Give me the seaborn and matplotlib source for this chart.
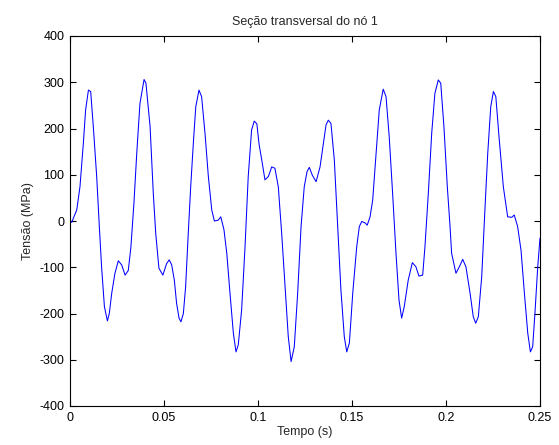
import matplotlib
matplotlib.use("Agg")
import matplotlib.pyplot as plt
import seaborn as sns
import pandas as pd

# Stress history at cross-section of node 1
tempo = [
    0.0000, 0.0009, 0.0036, 0.0053, 0.0071, 0.0083, 0.0098, 0.0110, 0.0124, 0.0142,
    0.0156, 0.0168, 0.0183, 0.0199, 0.0209, 0.0222, 0.0239, 0.0257, 0.0275, 0.0293,
    0.0310, 0.0324, 0.0340, 0.0355, 0.0372, 0.0394, 0.0404, 0.0426, 0.0443, 0.0456,
    0.0473, 0.0494, 0.0514, 0.0528, 0.0541, 0.0555, 0.0567, 0.0580, 0.0590, 0.0603,
    0.0615, 0.0629, 0.0642, 0.0656, 0.0669, 0.0686, 0.0700, 0.0718, 0.0736, 0.0754,
    0.0768, 0.0789, 0.0802, 0.0819, 0.0834, 0.0851, 0.0869, 0.0883, 0.0895, 0.0913,
    0.0931, 0.0948, 0.0966, 0.0980, 0.0994, 0.1006, 0.1020, 0.1037, 0.1055, 0.1073,
    0.1090, 0.1108, 0.1126, 0.1144, 0.1161, 0.1176, 0.1193, 0.1211, 0.1229, 0.1246,
    0.1261, 0.1273, 0.1289, 0.1309, 0.1330, 0.1348, 0.1362, 0.1374, 0.1388, 0.1406,
    0.1424, 0.1441, 0.1459, 0.1472, 0.1486, 0.1504, 0.1525, 0.1539, 0.1552, 0.1569,
    0.1581, 0.1596, 0.1610, 0.1628, 0.1645, 0.1666, 0.1681, 0.1698, 0.1716, 0.1734,
    0.1750, 0.1764, 0.1778, 0.1799, 0.1821, 0.1840, 0.1856, 0.1876, 0.1888, 0.1906,
    0.1924, 0.1941, 0.1959, 0.1972, 0.1989, 0.2007, 0.2021, 0.2030, 0.2053, 0.2071,
    0.2089, 0.2106, 0.2128, 0.2145, 0.2158, 0.2172, 0.2190, 0.2207, 0.2222, 0.2238,
    0.2252, 0.2265, 0.2282, 0.2305, 0.2328, 0.2350, 0.2363, 0.2381, 0.2399, 0.2417,
    0.2435, 0.2449, 0.2461, 0.2473, 0.2488, 0.2500,
]
tensao = [
    0, -3, 24, 74, 168, 240, 283, 280, 204, 96,
    -12, -99, -185, -216, -200, -156, -113, -86, -95, -117,
    -107, -56, 38, 146, 254, 306, 298, 204, 60, -27,
    -102, -117, -92, -84, -95, -128, -178, -210, -218, -200,
    -142, -27, 74, 168, 247, 283, 269, 190, 96, 24,
    0, 2, 9, -19, -70, -156, -243, -283, -268, -192,
    -56, 96, 197, 216, 210, 165, 132, 89, 96, 117,
    114, 74, -27, -142, -250, -304, -272, -156, -12, 74,
    107, 116, 99, 85, 117, 168, 208, 218, 211, 132,
    -12, -149, -250, -283, -264, -156, -56, -12, -1, -4,
    -9, 9, 45, 146, 240, 285, 269, 182, 60, -70,
    -171, -210, -185, -128, -90, -99, -119, -117, -56, 60,
    190, 276, 305, 298, 204, 74, -9, -70, -113, -99,
    -83, -99, -156, -207, -221, -207, -120, 24, 146, 247,
    280, 269, 182, 74, 9, 8, 13, -12, -63, -156,
    -243, -283, -272, -200, -99, -37,
]

x_ticks = [0, 0.05, 0.1, 0.15, 0.2, 0.25]
x_labels = ["0", "0.05", "0.1", "0.15", "0.2", "0.25"]
y_ticks = [-400, -300, -200, -100, 0, 100, 200, 300, 400]
y_labels = ["-400", "-300", "-200", "-100", "0", "100", "200", "300", "400"]

sns.set_style("ticks")
plt.rcParams["font.family"] = ["Liberation Sans", "DejaVu Sans"]
plt.rcParams["axes.unicode_minus"] = False

df = pd.DataFrame({"Tempo (s)": tempo, "Tensão (MPa)": tensao})

fig = plt.figure(figsize=(5.59, 4.45), dpi=100, facecolor="white")
ax = fig.add_axes([70 / 559, 39 / 445, 470 / 559, 370 / 445])

sns.lineplot(data=df, x="Tempo (s)", y="Tensão (MPa)", ax=ax,
             color=(0, 0, 1), linewidth=0.75, estimator=None, sort=False)

ax.set_xlim(0, 0.25)
ax.set_ylim(-400, 400)
ax.set_xticks(x_ticks)
ax.set_xticklabels(x_labels)
ax.set_yticks(y_ticks)
ax.set_yticklabels(y_labels)

for side in ["top", "right", "left", "bottom"]:
    ax.spines[side].set_visible(True)
    ax.spines[side].set_linewidth(0.8)
    ax.spines[side].set_color("black")

ax.tick_params(direction="in", length=4, width=0.8, top=True, right=True,
               labelsize=9, colors="black", pad=4)
ax.set_xlabel("Tempo (s)", fontsize=9, labelpad=2)
ax.set_ylabel("Tensão (MPa)", fontsize=9, labelpad=4)
ax.set_title("Seção transversal do nó 1", fontsize=9, pad=8)

fig.savefig("out.png", dpi=100, facecolor="white")
